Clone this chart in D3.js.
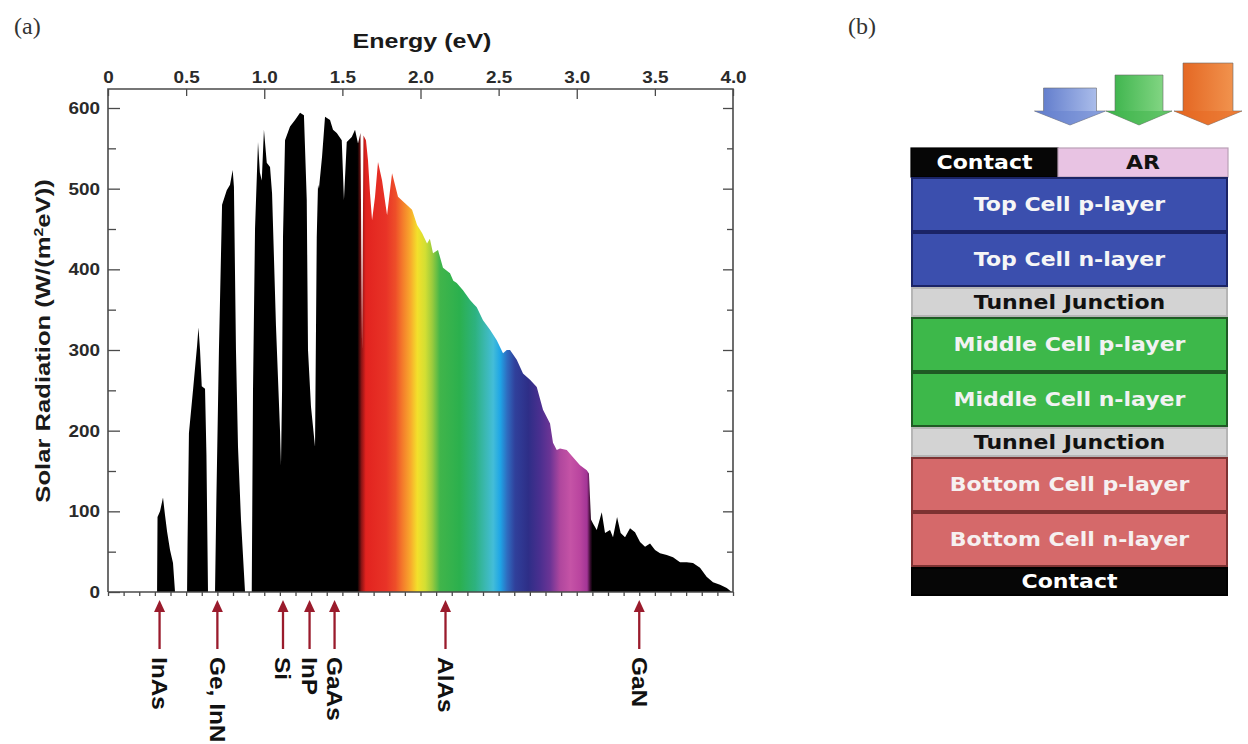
<!DOCTYPE html>
<html>
<head>
<meta charset="utf-8">
<script src="https://cdn.jsdelivr.net/npm/d3@7"></script>
<style>
  html, body { margin: 0; padding: 0; background: #fff; }
  svg { display: block; }
</style>
</head>
<body>
<svg id="fig" width="1248" height="744"></svg>
<script>
// ---- Solar spectrum (AM1.5) expressed per unit photon energy ----
const energyEv = [
  0, 0.314, 0.317, 0.333, 0.352, 0.365, 0.378, 0.397, 0.416, 0.429,
  0.506, 0.509, 0.518, 0.544, 0.570, 0.579, 0.589, 0.600, 0.621, 0.630, 0.640,
  0.685, 0.694, 0.710, 0.730, 0.760, 0.781, 0.798, 0.806, 0.819, 0.832, 0.851, 0.877,
  0.920, 0.928, 0.941, 0.960, 0.972, 0.984, 0.998, 1.016, 1.037, 1.050, 1.075, 1.101,
  1.107, 1.114, 1.120, 1.133, 1.165, 1.197, 1.229, 1.254, 1.272, 1.280, 1.299, 1.325,
  1.336, 1.344, 1.350, 1.370, 1.389, 1.421, 1.440, 1.464, 1.496, 1.510, 1.528, 1.560,
  1.581, 1.600, 1.616, 1.626, 1.635, 1.651, 1.664, 1.677, 1.690, 1.709, 1.728, 1.754,
  1.786, 1.818, 1.856, 1.901, 1.946, 1.978, 2.010, 2.042, 2.060, 2.080, 2.112, 2.144,
  2.189, 2.210, 2.232, 2.272, 2.317, 2.340, 2.360, 2.400, 2.445, 2.488, 2.528, 2.552,
  2.573, 2.616, 2.656, 2.701, 2.744, 2.784, 2.829, 2.848, 2.872, 2.893, 2.936, 2.976,
  3.021, 3.064, 3.078, 3.091, 3.104, 3.128, 3.160, 3.181, 3.213, 3.232, 3.258, 3.281,
  3.309, 3.341, 3.373, 3.405, 3.437, 3.469, 3.501, 3.533, 3.576, 3.616, 3.661, 3.704,
  3.744, 3.789, 3.831, 3.872, 3.917, 3.960, 3.992, 4.000
];
const irradiance = [
  0, 0, 93, 100, 117, 95, 75, 52, 36, 0,
  0, 60, 197, 250, 305, 328, 300, 255, 252, 170, 0,
  0, 120, 300, 480, 498, 505, 523, 502, 300, 180, 90, 0,
  0, 250, 450, 558, 520, 510, 573, 532, 527, 494, 330, 200,
  157, 250, 440, 560, 577, 585, 594, 591, 486, 300, 230, 180,
  440, 505, 500, 540, 589, 585, 573, 569, 560, 486, 558, 564,
  573, 556, 569, 300, 566, 560, 535, 494, 461, 490, 533, 510,
  467, 519, 490, 482, 474, 455, 445, 432, 438, 420, 424, 402,
  395, 386, 383, 374, 362, 357, 353, 337, 325, 312, 296, 300,
  300, 288, 271, 263, 254, 226, 209, 185, 176, 178, 176, 167,
  157, 151, 147, 90, 85, 77, 99, 73, 77, 68, 93, 73,
  68, 79, 74, 62, 56, 60, 52, 48, 46, 43, 37, 37,
  36, 30, 19, 12, 9, 5, 0, 0
];

const energyTicks = [0, 0.5, 1.0, 1.5, 2.0, 2.5, 3.0, 3.5, 4.0];
const radiationTicks = [0, 100, 200, 300, 400, 500, 600];

// Band gaps of common semiconductors
const materials = ["InAs", "Ge, InN", "Si", "InP", "GaAs", "AlAs", "GaN"];
const bandGapEv = [0.33, 0.70, 1.12, 1.29, 1.45, 2.16, 3.40];

// Triple-junction cell stack, top to bottom
const frontLayers = ["Contact", "AR"];
const stackLayers = [
  "Top Cell p-layer", "Top Cell n-layer", "Tunnel Junction",
  "Middle Cell p-layer", "Middle Cell n-layer", "Tunnel Junction",
  "Bottom Cell p-layer", "Bottom Cell n-layer", "Contact"
];

// ---------------------------------------------------------------
const svg = d3.select("#fig");
const sansBold = "'Liberation Sans', Arial, Helvetica, sans-serif";

// widen glyphs a little so the heavy grotesque look is kept
function widen(sel, factor) {
  sel.each(function () {
    const n = this.getComputedTextLength();
    d3.select(this).attr("textLength", n * factor).attr("lengthAdjust", "spacingAndGlyphs");
  });
}

// ---- panel labels ----
svg.append("text").attr("x", 14).attr("y", 34).text("(a)")
  .attr("font-family", "'Liberation Serif', 'DejaVu Serif', serif").attr("font-size", 24).attr("fill", "#333");
svg.append("text").attr("x", 848).attr("y", 34).text("(b)")
  .attr("font-family", "'Liberation Serif', 'DejaVu Serif', serif").attr("font-size", 24).attr("fill", "#333");

// ---- panel (a): spectrum ----
const x = d3.scaleLinear().domain([0, 4]).range([108, 733]);
const y = d3.scaleLinear().domain([0, 600]).range([592, 108]);
const plotTop = 89;

const spectrum = energyEv.map((e, i) => ({ e, v: irradiance[i] }));

// visible band colours along the energy axis
const spectrumStops = [
  [0, "#000"], [1.596, "#000"], [1.622, "#8a1414"], [1.650, "#e2231f"], [1.78, "#e83327"],
  [1.84, "#ee4e29"], [1.885, "#f47b2b"], [1.935, "#f8a92c"], [1.98, "#f3e02b"],
  [2.03, "#d3df33"], [2.075, "#9bcb3d"], [2.125, "#41b54a"], [2.25, "#2bb04e"],
  [2.35, "#2db27f"], [2.415, "#3bb8b2"], [2.465, "#43bdd8"], [2.51, "#1fa5e6"],
  [2.555, "#2f6bbf"], [2.605, "#30409b"], [2.69, "#2e2e87"], [2.765, "#4a2f8f"],
  [2.83, "#6b3495"], [2.895, "#b0479e"], [2.96, "#c553a6"], [3.02, "#ba459f"],
  [3.066, "#a23596"], [3.086, "#3a0d30"], [3.10, "#000"], [4, "#000"]
];

const defs = svg.append("defs");
const grad = defs.append("linearGradient").attr("id", "visible-band")
  .attr("gradientUnits", "userSpaceOnUse")
  .attr("x1", x(0)).attr("x2", x(4)).attr("y1", 0).attr("y2", 0);
grad.selectAll("stop").data(spectrumStops).join("stop")
  .attr("offset", d => d[0] / 4).attr("stop-color", d => d[1]);

const area = d3.area()
  .x(d => x(d.e)).y0(y(0)).y1(d => y(d.v))
  .curve(d3.curveLinear);

svg.append("path").datum(spectrum).attr("d", area).attr("fill", "url(#visible-band)");

// ---- frame and axes ----
const axisColor = "#4a4a4a";
const gLeft = svg.append("g").attr("transform", `translate(${x(0)},0)`)
  .call(d3.axisLeft(y).tickValues(radiationTicks).tickSizeInner(-12).tickSizeOuter(0).tickPadding(8));
const gLeftMinor = svg.append("g").attr("transform", `translate(${x(0)},0)`)
  .call(d3.axisLeft(y).tickValues([50, 150, 250, 350, 450, 550]).tickSize(-8).tickFormat(""));
const gRight = svg.append("g").attr("transform", `translate(${x(4)},0)`)
  .call(d3.axisRight(y).tickValues(radiationTicks.slice(1)).tickSize(-10).tickFormat(""));
const gRightMinor = svg.append("g").attr("transform", `translate(${x(4)},0)`)
  .call(d3.axisRight(y).tickValues([50, 150, 250, 350, 450, 550]).tickSize(-6).tickFormat(""));
const gTop = svg.append("g").attr("transform", `translate(0,${plotTop})`)
  .call(d3.axisTop(x).tickValues(energyTicks).tickSize(-7).tickPadding(6)
    .tickFormat(d => d === 0 ? "0" : d.toFixed(1)));
const gBottom = svg.append("g").attr("transform", `translate(0,${y(0)})`)
  .call(d3.axisBottom(x).tickValues(d3.range(0, 41).map(i => i / 10)).tickSize(4).tickFormat(""));

[gLeft, gLeftMinor, gRight, gRightMinor, gTop, gBottom].forEach(g => {
  g.select(".domain").remove();
  g.selectAll("line").attr("stroke", axisColor).attr("stroke-width", 1.3);
  g.selectAll("text").attr("font-family", sansBold).attr("font-weight", "bold")
    .attr("font-size", 16).attr("fill", "#2a2a2a");
});
widen(gLeft.selectAll("text"), 1.18);
widen(gTop.selectAll("text"), 1.18);
gLeft.selectAll("text").attr("dy", "0.35em");
gTop.selectAll(".tick").filter(d => d === 1 || d === 2 || d === 3)
  .select("line").attr("y2", 10);

// box edges
svg.append("path")
  .attr("d", `M${x(0)},${y(0)}V${plotTop}H${x(4)}V${y(0)}`)
  .attr("fill", "none").attr("stroke", axisColor).attr("stroke-width", 1.6);
svg.append("line").attr("x1", x(0)).attr("x2", x(4)).attr("y1", y(0)).attr("y2", y(0))
  .attr("stroke", axisColor).attr("stroke-width", 1.6);

// axis titles
const xTitle = svg.append("text").attr("x", 422).attr("y", 48).attr("text-anchor", "middle")
  .attr("font-family", sansBold).attr("font-weight", "bold").attr("font-size", 21)
  .attr("fill", "#1a1a1a").text("Energy (eV)");
widen(xTitle, 1.19);

const yTitle = svg.append("text").attr("transform", "translate(50,341) rotate(-90)")
  .attr("text-anchor", "middle").attr("font-family", sansBold).attr("font-weight", "bold")
  .attr("font-size", 21).attr("fill", "#1a1a1a");
yTitle.append("tspan").text("Solar Radiation (W/(m");
yTitle.append("tspan").attr("baseline-shift", "super").attr("font-size", 13).text("2");
yTitle.append("tspan").text("eV))");
widen(yTitle, 1.22);

// band-gap markers below the energy axis
const arrowColor = "#9a1b2c";
const markers = svg.append("g").selectAll("g")
  .data(materials.map((m, i) => ({ name: m, e: bandGapEv[i] })))
  .join("g").attr("transform", d => `translate(${x(d.e)},0)`);
markers.append("line").attr("x1", 0).attr("x2", 0).attr("y1", 609).attr("y2", 649)
  .attr("stroke", arrowColor).attr("stroke-width", 2.3);
markers.append("path").attr("d", "M0,600L-5.5,612L5.5,612Z").attr("fill", arrowColor);
const markerText = markers.append("text")
  .attr("transform", "translate(0,657) rotate(90)")
  .attr("dy", "0.35em")
  .attr("font-family", sansBold).attr("font-weight", "bold").attr("font-size", 22)
  .attr("fill", "#111").text(d => d.name);
widen(markerText, 1.11);

// ---- panel (b): cell stack ----
const stackLeft = 911, stackRight = 1228, stackTop = 148;
const splitX = 1058;
const panelFont = "'DejaVu Sans', Verdana, sans-serif";

const kindOf = name => name.startsWith("Top") ? "top"
  : name.startsWith("Middle") ? "middle"
  : name.startsWith("Bottom") ? "bottom"
  : name.startsWith("Tunnel") ? "tunnel" : "contact";
const layerStyle = {
  top:     { fill: "#3b4fae", stroke: "#1b2466", text: "#f6f6f6", h: 55 },
  middle:  { fill: "#3db84a", stroke: "#1f5a24", text: "#f2f2f2", h: 55 },
  bottom:  { fill: "#d5696a", stroke: "#7d3232", text: "#f6f0f0", h: 55 },
  tunnel:  { fill: "#d3d3d3", stroke: "#b5b5b5", text: "#111111", h: 30 },
  contact: { fill: "#060606", stroke: "#000000", text: "#ffffff", h: 29 }
};

const front = [
  { name: frontLayers[0], x0: stackLeft, x1: splitX, fill: "#060606", stroke: "#000", text: "#fff" },
  { name: frontLayers[1], x0: splitX, x1: stackRight, fill: "#e8c3e3", stroke: "#b9a0b6", text: "#111" }
];
const rowH0 = layerStyle.contact.h;
const gFront = svg.append("g").selectAll("g").data(front).join("g");
gFront.append("rect").attr("x", d => d.x0).attr("y", stackTop).attr("width", d => d.x1 - d.x0)
  .attr("height", rowH0).attr("fill", d => d.fill).attr("stroke", d => d.stroke).attr("stroke-width", 1.2);
const frontText = gFront.append("text").attr("x", d => (d.x0 + d.x1) / 2).attr("y", stackTop + rowH0 / 2)
  .attr("dy", "0.36em").attr("text-anchor", "middle")
  .attr("font-family", panelFont).attr("font-weight", "bold").attr("font-size", 19)
  .attr("fill", d => d.text).text(d => d.name);
widen(frontText, 1.16);

let yCursor = stackTop + rowH0;
const rows = stackLayers.map(name => {
  const s = layerStyle[kindOf(name)];
  const r = { name, y0: yCursor, h: s.h, ...s };
  yCursor += s.h;
  return r;
});
const gRows = svg.append("g").selectAll("g").data(rows).join("g");
gRows.append("rect").attr("x", stackLeft + 1).attr("y", d => d.y0 + 1)
  .attr("width", stackRight - stackLeft - 2).attr("height", d => d.h - 2)
  .attr("fill", d => d.fill).attr("stroke", d => d.stroke).attr("stroke-width", 2);
const rowText = gRows.append("text").attr("x", (stackLeft + stackRight) / 2)
  .attr("y", d => d.y0 + d.h / 2).attr("dy", "0.36em").attr("text-anchor", "middle")
  .attr("font-family", panelFont).attr("font-weight", "bold").attr("font-size", 19)
  .attr("fill", d => d.text).text(d => d.name);
widen(rowText, 1.16);

// incoming light: three block arrows
const lightArrows = [
  { cx: 1070, hw: 26.5, top: 88, c0: "#5874c8", c1: "#b6c7ef", head: "#6783cf" },
  { cx: 1139, hw: 24,   top: 75, c0: "#35b046", c1: "#8edb8c", head: "#43b64f" },
  { cx: 1208, hw: 25,   top: 63, c0: "#e2601c", c1: "#f39a55", head: "#e86a22" }
];
lightArrows.forEach((a, i) => {
  const g = defs.append("linearGradient").attr("id", "light" + i)
    .attr("x1", 0).attr("x2", 1).attr("y1", 0).attr("y2", 0);
  g.append("stop").attr("offset", 0).attr("stop-color", a.c0);
  g.append("stop").attr("offset", 1).attr("stop-color", a.c1);
});
const headY = 111, tipY = 125, wing = 9;
svg.append("g").selectAll("path").data(lightArrows).join("path")
  .attr("d", a => `M${a.cx - a.hw},${a.top}H${a.cx + a.hw}V${headY}H${a.cx + a.hw + wing}`
    + `L${a.cx},${tipY}L${a.cx - a.hw - wing},${headY}H${a.cx - a.hw}Z`)
  .attr("fill", (a, i) => `url(#light${i})`)
  .attr("stroke", "#6a6a6a").attr("stroke-width", 0.6);
svg.append("g").selectAll("path").data(lightArrows).join("path")
  .attr("d", a => `M${a.cx - a.hw - wing},${headY}H${a.cx + a.hw + wing}L${a.cx},${tipY}Z`)
  .attr("fill", a => a.head).attr("opacity", 0.55);
</script>
</body>
</html>
